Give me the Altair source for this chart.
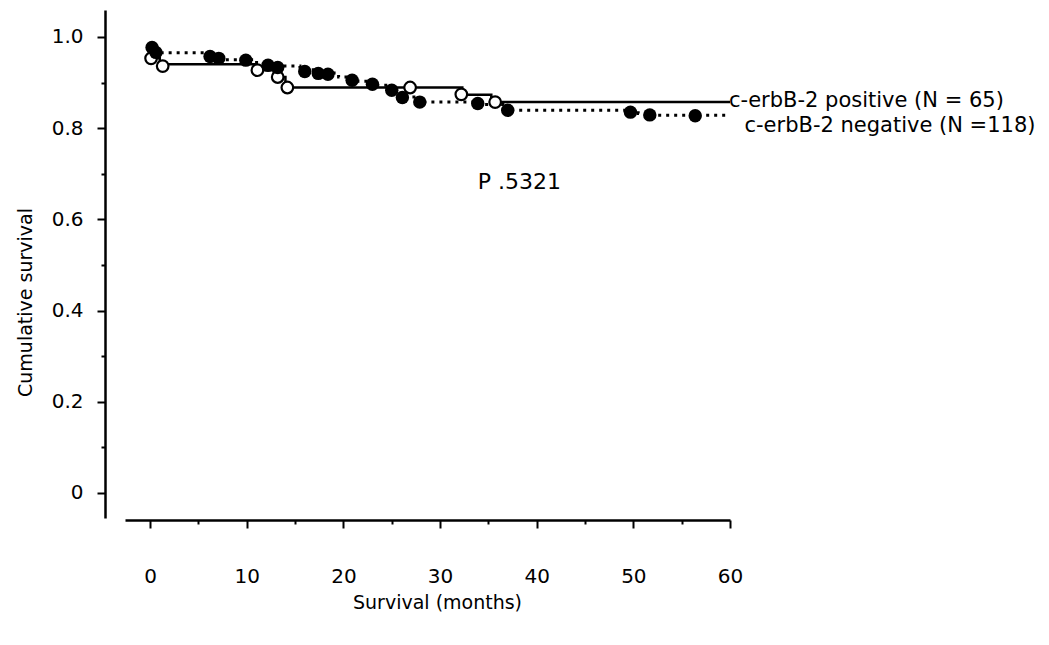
import altair as alt
import pandas as pd

# Kaplan-Meier step curves (months, cumulative survival)
neg_time = [0, 0.7, 6.2, 7.5, 10.5, 12.5, 15.5, 17.5, 19.5, 21.5, 23.5, 25.0, 26.0, 27.5, 33.5, 36.5, 50.5, 52.5, 60]
neg_surv = [0.977, 0.965, 0.957, 0.950, 0.944, 0.936, 0.928, 0.921, 0.912, 0.903, 0.894, 0.882, 0.868, 0.857, 0.852, 0.839, 0.832, 0.828, 0.828]
neg_cens_time = [0.2, 0.6, 6.2, 7.1, 9.9, 12.2, 13.2, 16.0, 17.4, 18.4, 20.9, 23.0, 25.0, 26.1, 27.9, 33.9, 37.0, 49.7, 51.7, 56.4]
neg_cens_surv = [0.977, 0.966, 0.957, 0.953, 0.949, 0.938, 0.933, 0.924, 0.920, 0.918, 0.905, 0.896, 0.883, 0.867, 0.857, 0.854, 0.839, 0.835, 0.829, 0.827]

pos_time = [0, 1.0, 10.8, 12.8, 14.0, 32.3, 35.3, 60]
pos_surv = [0.953, 0.940, 0.927, 0.912, 0.889, 0.873, 0.857, 0.857]
pos_cens_time = [0.1, 1.3, 11.1, 13.2, 14.2, 26.9, 32.2, 35.7]
pos_cens_surv = [0.953, 0.936, 0.927, 0.912, 0.889, 0.889, 0.874, 0.857]

ann_text = ["c-erbB-2 positive (N = 65)", "c-erbB-2 negative (N =118)", "P .5321"]
ann_x = [59.9, 61.5, 33.9]
ann_y = [0.860, 0.805, 0.681]
ann_size = [21, 21, 22]

x_ticks = [i * 2.5 for i in range(25)]
y_ticks = [i / 10 for i in range(11)]

FONT = "DejaVu Sans"

neg_df = pd.DataFrame({"t": neg_time, "s": neg_surv})
pos_df = pd.DataFrame({"t": pos_time, "s": pos_surv})
negc_df = pd.DataFrame({"t": neg_cens_time, "s": neg_cens_surv})
posc_df = pd.DataFrame({"t": pos_cens_time, "s": pos_cens_surv})
ann_df = pd.DataFrame({"t": ann_x, "s": ann_y, "label": ann_text, "fs": ann_size})

x_scale = alt.Scale(domain=[-2.6, 60], nice=False, zero=False)
y_scale = alt.Scale(domain=[-0.055, 1.059], nice=False, zero=False)

x_axis = alt.Axis(
    title="Survival (months)",
    values=x_ticks,
    offset=2,
    grid=False,
    domainColor="black",
    domainWidth=2.5,
    tickColor="black",
    tickWidth=2,
    tickSize={"condition": {"test": "datum.value % 10 === 0", "value": 8}, "value": 4},
    labelExpr="datum.value % 10 === 0 ? format(datum.value, 'd') : ''",
    labelFlush=False,
    labelFont=FONT,
    labelFontSize=20,
    labelColor="black",
    labelPadding=38,
    titleFont=FONT,
    titleFontSize=19,
    titleFontWeight="normal",
    titleColor="black",
    titlePadding=7,
    titleX=312,
)

y_axis = alt.Axis(
    title="Cumulative survival",
    values=y_ticks,
    offset=20,
    grid=False,
    domainColor="black",
    domainWidth=2.5,
    tickColor="black",
    tickWidth=2,
    tickSize={"condition": {"test": "round(datum.value * 10) % 2 === 0", "value": 8}, "value": 4},
    labelExpr="round(datum.value * 10) % 2 === 0 ? (datum.value === 0 ? '0' : format(datum.value, '.1f')) : ''",
    labelFlush=False,
    labelFont=FONT,
    labelFontSize=20,
    labelColor="black",
    labelPadding=14,
    titleFont=FONT,
    titleFontSize=19,
    titleFontWeight="normal",
    titleColor="black",
    titlePadding=16,
    titleY=292,
)

pos_line = alt.Chart(pos_df).mark_line(
    interpolate="step-after", color="black", strokeWidth=2.5
).encode(
    x=alt.X("t:Q", scale=x_scale, axis=x_axis),
    y=alt.Y("s:Q", scale=y_scale, axis=y_axis),
)

neg_line = alt.Chart(neg_df).mark_line(
    interpolate="step-after", color="black", strokeWidth=3, strokeDash=[3, 5]
).encode(x="t:Q", y="s:Q")

pos_pts = alt.Chart(posc_df).mark_point(
    shape="circle", size=135, filled=False, fill="white", fillOpacity=1,
    stroke="black", strokeWidth=2.2, opacity=1
).encode(x="t:Q", y="s:Q")

neg_pts = alt.Chart(negc_df).mark_circle(
    size=180, color="black", opacity=1
).encode(x="t:Q", y="s:Q")

ann = alt.Chart(ann_df).mark_text(
    align="left", baseline="middle", font=FONT, color="black"
).encode(
    x="t:Q", y="s:Q", text="label:N",
    size=alt.Size("fs:Q", scale=None, legend=None),
)

chart = alt.layer(pos_line, neg_line, pos_pts, neg_pts, ann).properties(
    width=605,
    height=508,
    padding={"left": 117, "top": 2, "right": 310, "bottom": 110},
    autosize=alt.AutoSizeParams(type="none"),
    background="white",
).configure_view(stroke=None)

chart.save("out.html", embed_options={"renderer": "svg", "actions": False})
